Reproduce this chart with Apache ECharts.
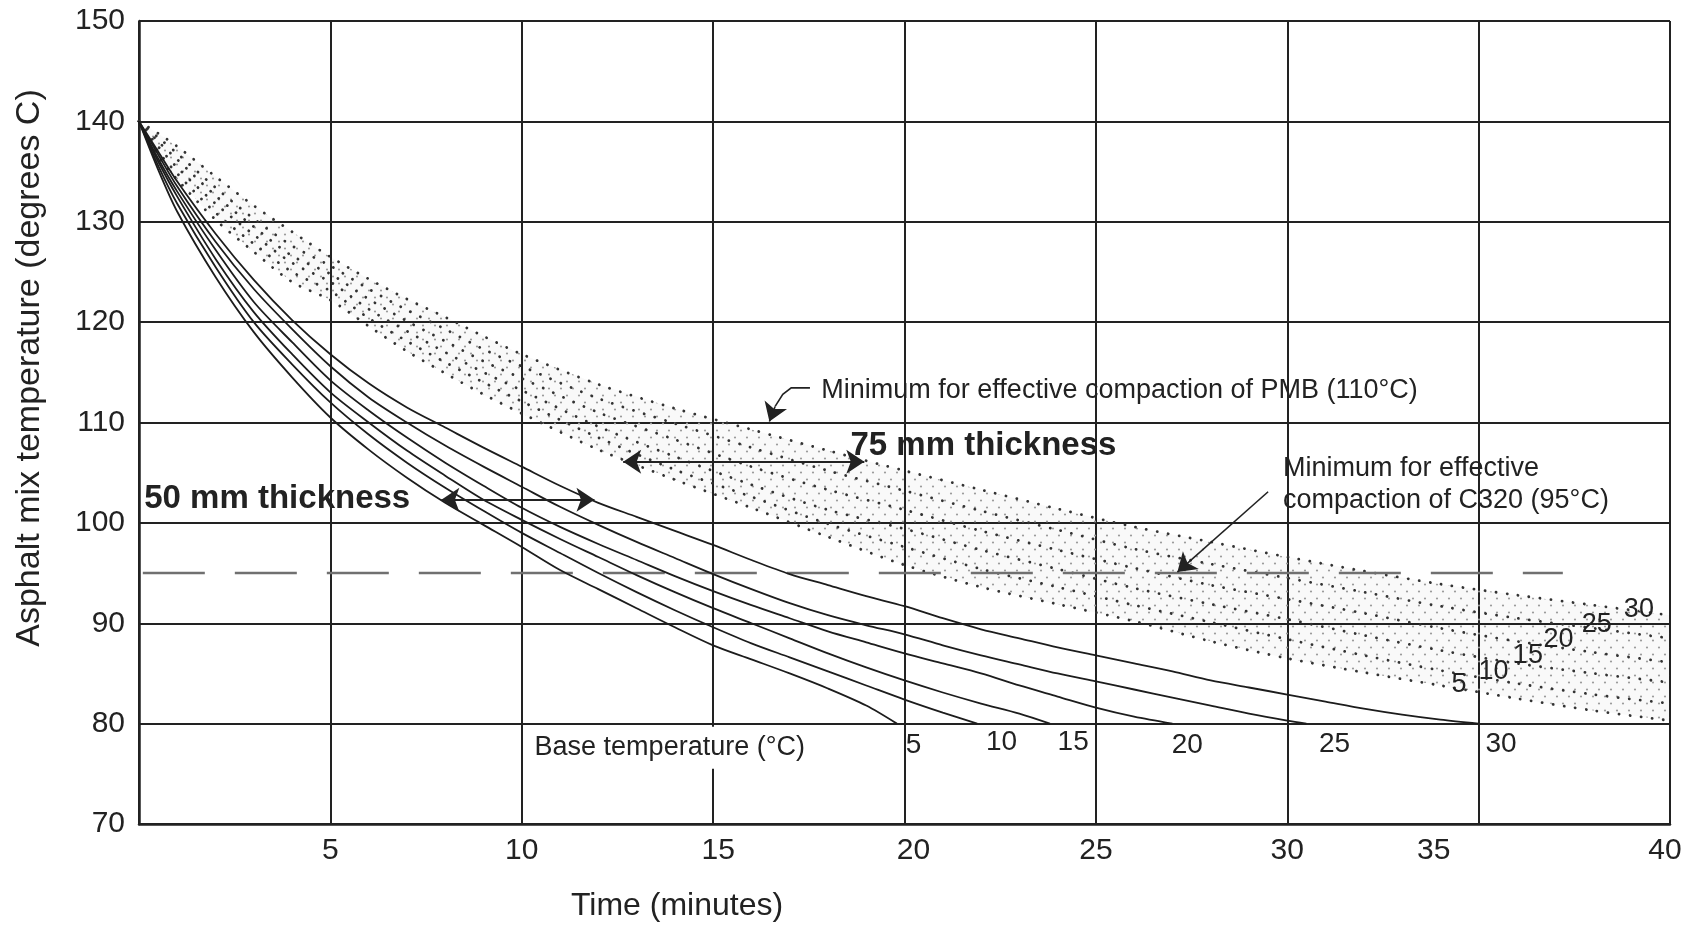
<!DOCTYPE html>
<html>
<head>
<meta charset="utf-8">
<script src="https://cdn.jsdelivr.net/npm/echarts@6/dist/echarts.min.js"></script>
<style>
html,body{margin:0;padding:0;background:#ffffff;}
#chart{width:1699px;height:933px;}
</style>
</head>
<body>
<div id="chart"></div>
<script>
// ---------------- data ----------------
const baseTemps = [5, 10, 15, 20, 25, 30];

// 50 mm thickness (solid), [time, temperature]
const solid5  = [[0,140],[0.5,135.2],[1,131],[2,124.5],[3,119],[4,114.5],[5,110.5],[6,107.3],[7,104.5],[8,102],[9,99.8],[10,97.6],[11,95.3],[12,93.4],[13,91.5],[14,89.6],[15,87.8],[16,86.4],[17,85],[18,83.5],[19,81.8],[19.8,80]];
const solid10 = [[0,140],[0.5,135.6],[1,131.8],[2,125.5],[3,120],[4,115.8],[5,112],[6,108.8],[7,106],[8,103.5],[9,101.2],[10,99],[11,97],[12,95],[13,93.1],[14,91.3],[15,89.6],[16,88],[17,86.6],[18,85.2],[19,83.8],[20,82.4],[21,81.1],[21.9,80]];
const solid15 = [[0,140],[0.5,136],[1,132.5],[2,126.3],[3,121],[4,116.8],[5,113],[6,110],[7,107.2],[8,104.7],[9,102.3],[10,100.3],[11,98.4],[12,96.6],[13,94.8],[14,93.1],[15,91.5],[16,90],[17,88.5],[18,87],[19,85.6],[20,84.3],[21,83.1],[22,82],[23,81],[23.8,80]];
const solid20 = [[0,140],[0.5,136.3],[1,133],[2,127.2],[3,122],[4,118],[5,114.2],[6,111.2],[7,108.5],[8,106],[9,103.7],[10,101.5],[11,99.6],[12,97.9],[13,96.3],[14,94.7],[15,93.2],[16,91.8],[17,90.5],[18,89.2],[19,88.1],[20,87],[21,86],[22,85],[23,83.8],[24,82.7],[25,81.6],[26,80.7],[27,80]];
const solid25 = [[0,140],[0.5,136.7],[1,133.5],[2,128],[3,123.3],[4,119.3],[5,115.6],[6,112.5],[7,110],[8,107.7],[9,105.6],[10,103.6],[11,101.6],[12,99.8],[13,98.1],[14,96.5],[15,94.9],[16,93.4],[17,92],[18,90.8],[19,89.8],[20,88.9],[21,87.8],[22,86.8],[23,85.9],[24,85],[25,84.2],[26,83.4],[27,82.6],[28,81.8],[29,81],[30,80.3],[30.5,80]];
const solid30 = [[0,140],[0.5,137],[1,134],[2,128.8],[3,124.2],[4,120.2],[5,116.8],[6,113.9],[7,111.5],[8,109.5],[9,107.5],[10,105.6],[11,103.7],[12,102],[13,100.6],[14,99.2],[15,97.8],[16,96.3],[17,94.9],[18,93.8],[19,92.7],[20,91.7],[21,90.5],[22,89.4],[23,88.5],[24,87.6],[25,86.8],[26,86],[27,85.2],[28,84.3],[29,83.6],[30,82.9],[31,82.2],[32,81.5],[33,80.9],[34,80.4],[35,80]];

// 75 mm thickness (dotted), temperatures at time75
const time75   = [0, 0.5, 1, 2, 3, 4, 5, 6, 7, 8, 9, 10, 12, 14, 16, 18, 20, 22, 24, 26, 28, 30, 32, 34, 36, 38, 40];
const dotted5  = [140, 136.6, 134.2, 130.2, 127, 124, 122.2, 119.6, 117.1, 114.9, 112.8, 110.9, 107.3, 104.3, 101.5, 98.6, 95.8, 93.6, 91.9, 90.2, 88.2, 86.5, 85.1, 83.8, 82.5, 81.3, 80.3];
const dotted10 = [140, 137, 134.8, 130.9, 127.8, 125, 123.1, 120.4, 118.1, 116, 114, 112.1, 108.5, 105.3, 102.6, 99.9, 97.6, 95.4, 93.6, 91.8, 90.1, 88.4, 86.8, 85.3, 84, 82.9, 82];
const dotted15 = [140, 137.5, 135.4, 131.8, 128.7, 125.9, 124, 121.3, 119.1, 117, 115, 113.2, 109.6, 106.6, 103.8, 101.3, 99.4, 97.3, 95.4, 93.5, 91.9, 90.4, 88.8, 87.3, 86, 85, 84.1];
const dotted20 = [140, 138, 136.2, 132.6, 129.5, 126.6, 124.8, 122.3, 120.1, 118.1, 116.1, 114.4, 111, 108.3, 105.6, 103.3, 101.3, 99.2, 97.3, 95.5, 93.8, 92.4, 91, 89.5, 88.2, 87.1, 86.1];
const dotted25 = [140, 138.4, 136.8, 133.4, 130.3, 127.6, 125.6, 123.3, 121.2, 119.3, 117.3, 115.6, 112.4, 109.9, 107.5, 105.2, 103.2, 101.2, 99.3, 97.4, 95.9, 94.5, 93.1, 91.7, 90.5, 89.5, 88.5];
const dotted30 = [140, 138.8, 137.5, 134.5, 131.6, 129, 126.5, 124.3, 122.3, 120.5, 118.6, 116.8, 113.8, 111.4, 109.3, 107.2, 105.2, 103.3, 101.4, 99.6, 98.1, 96.6, 95.2, 93.9, 92.8, 91.8, 90.8];

// C320 minimum compaction line (95 °C)
const c320Line = [[0.1, 95], [37.2, 95]];

// base-temperature labels under the solid curves, and labels on the dotted curves
const solidLabelX  = [20.25, 22.55, 24.42, 27.4, 31.25, 35.6];
const solidLabelY  = [77.8, 78.1, 78.1, 77.8, 77.9, 77.9];
const dottedLabelX = [34.5, 35.4, 36.3, 37.1, 38.1, 39.2];
const dottedLabelY = [83.8, 85.1, 86.7, 88.3, 89.8, 91.3];

// annotation arrows
const arrow50     = [[7.9, 102.3], [11.9, 102.3]];
const arrow75     = [[12.65, 106.1], [18.95, 106.1]];
const arrowPMBarm = [[17.53, 113.45], [17.04, 113.45], [16.82, 112.8], [16.62, 111.6]];
const arrowPMBtip = [[16.62, 111.6], [16.47, 110.1]];
const arrowC320   = [[29.5, 103.1], [27.13, 95.1]];

// annotation texts: [text, x, y, kind]
const notes = [
  ['Minimum for effective compaction of PMB (110°C)', 17.84, 113.1, 'note'],
  ['75 mm thickness', 18.6, 107.6, 'bold'],
  ['50 mm thickness', 0.15, 102.3, 'bold'],
  ['Minimum for effective\ncompaction of C320 (95°C)', 29.9, 103.8, 'note'],
  ['Base temperature (°C)', 13.88, 77.55, 'base']
];

// ---------------- chart ----------------
const FONT = '"Liberation Sans", Arial, Helvetica, sans-serif';
const INK = '#222222';

function stipple() {
  const c = document.createElement('canvas');
  c.width = 12; c.height = 14;
  const g = c.getContext('2d');
  g.fillStyle = 'rgba(0,0,0,0.025)';
  g.fillRect(0, 0, 12, 14);
  g.fillStyle = '#9c9c9c';
  g.beginPath(); g.arc(3, 3.5, 1.1, 0, Math.PI * 2); g.fill();
  g.beginPath(); g.arc(9, 10.5, 1.1, 0, Math.PI * 2); g.fill();
  return c;
}
const stipplePattern = { image: stipple(), repeat: 'repeat' };

const solidSets = [solid5, solid10, solid15, solid20, solid25, solid30];
const dottedSets = [dotted5, dotted10, dotted15, dotted20, dotted25, dotted30];
const pairs = arr => time75.map((t, i) => [t, arr[i]]);

const series = [];

// stippled band between the 5 °C and 30 °C dotted curves
series.push({
  name: 'band', type: 'custom', silent: true, z: 1, clip: true,
  data: [[20, 110]],
  renderItem: (params, api) => {
    const pts = time75.map((t, i) => api.coord([t, dotted30[i]]));
    for (let i = time75.length - 1; i >= 0; i--) pts.push(api.coord([time75[i], dotted5[i]]));
    return { type: 'polygon', shape: { points: pts }, style: { fill: stipplePattern, stroke: null } };
  }
});

// dotted curves (75 mm)
dottedSets.forEach((arr, k) => {
  series.push({
    name: '75 mm, base ' + baseTemps[k] + '°C', type: 'line', silent: true, z: 3,
    data: pairs(arr), symbol: 'none', smooth: 0.3,
    lineStyle: { color: '#333333', width: 2.8, type: [0.1, 11], cap: 'round' }
  });
});

// solid curves (50 mm)
solidSets.forEach((arr, k) => {
  series.push({
    name: '50 mm, base ' + baseTemps[k] + '°C', type: 'line', silent: true, z: 4,
    data: arr, symbol: 'none', smooth: 0.3,
    lineStyle: { color: '#1c1c1c', width: 1.8 }
  });
});

// C320 dashed line
series.push({
  name: 'C320 minimum', type: 'line', silent: true, z: 3,
  data: c320Line, symbol: 'none',
  lineStyle: { color: '#707070', width: 2.5, type: [62, 30] }
});

// arrows
series.push({
  type: 'lines', coordinateSystem: 'cartesian2d', silent: true, z: 6,
  symbol: ['arrow', 'arrow'], symbolSize: 18,
  lineStyle: { color: INK, width: 1.8, opacity: 1 },
  data: [{ coords: arrow50 }, { coords: arrow75 }]
});
series.push({
  type: 'lines', coordinateSystem: 'cartesian2d', silent: true, z: 6,
  symbol: ['none', 'arrow'], symbolSize: 18,
  lineStyle: { color: INK, width: 1.6, opacity: 1 },
  data: [{ coords: arrowPMBtip }, { coords: arrowC320 }]
});
series.push({
  type: 'lines', coordinateSystem: 'cartesian2d', polyline: true, silent: true, z: 6,
  lineStyle: { color: INK, width: 1.6, opacity: 1 },
  data: [{ coords: arrowPMBarm }]
});

// texts
const baseLabel = { show: true, position: [0, 0], verticalAlign: 'middle', color: INK,
  fontFamily: FONT, opacity: 1, textBorderWidth: 0, textBorderColor: 'transparent' };
const noteStyle = {
  note: { fontSize: 27, fontWeight: 'normal', align: 'left', lineHeight: 32 },
  bold: { fontSize: 33, fontWeight: 'bold', align: 'left', lineHeight: 38 },
  base: { fontSize: 27, fontWeight: 'normal', align: 'center', lineHeight: 30,
          backgroundColor: '#ffffff', padding: [8, 4, 4, 4] }
};
const textLayer = {
  type: 'scatter', silent: true, z: 8, symbol: 'circle', symbolSize: 1,
  itemStyle: { color: '#ffffff', opacity: 1 }, labelLayout: { hideOverlap: false }
};
series.push(Object.assign({}, textLayer, {
  data: notes.map(n => ({
    value: [n[1], n[2]],
    label: Object.assign({}, baseLabel, { formatter: n[0] }, noteStyle[n[3]])
  }))
}));
series.push(Object.assign({}, textLayer, {
  data: baseTemps.map((b, i) => ({
    value: [solidLabelX[i], solidLabelY[i]],
    label: Object.assign({}, baseLabel, { formatter: String(b), align: 'center', fontSize: 28 })
  }))
}));
series.push(Object.assign({}, textLayer, {
  data: baseTemps.map((b, i) => ({
    value: [dottedLabelX[i], dottedLabelY[i]],
    label: Object.assign({}, baseLabel, { formatter: String(b), align: 'center', fontSize: 27 })
  }))
}));

const tickRich = {
  n:   { fontSize: 30, color: INK, fontFamily: FONT },
  r5:  { fontSize: 30, color: INK, fontFamily: FONT, padding: [0, 0, 0, 10] },
  r9:  { fontSize: 30, color: INK, fontFamily: FONT, padding: [0, 0, 0, 18] },
  l45: { fontSize: 30, color: INK, fontFamily: FONT, padding: [0, 90, 0, 0] },
  up:  { fontSize: 30, color: INK, fontFamily: FONT, padding: [0, 10, 14, 0] }
};
const tickStyleFor = { 15: 'r5', 20: 'r9', 35: 'l45', 40: 'up' };

const chart = echarts.init(document.getElementById('chart'), null, { renderer: 'canvas' });
chart.setOption({
  animation: false,
  backgroundColor: '#ffffff',
  grid: { left: 139, right: 29, top: 21, bottom: 109, containLabel: false },
  xAxis: {
    type: 'value', min: 0, max: 40, interval: 5,
    name: 'Time (minutes)', nameLocation: 'middle', nameGap: 66,
    nameTextStyle: { fontSize: 32, color: INK, fontFamily: FONT, padding: [0, 455, 0, 0] },
    axisLine: { show: true, onZero: false, lineStyle: { color: INK, width: 2.5 } },
    axisTick: { show: false },
    axisLabel: {
      margin: 12, fontSize: 30, color: INK, fontFamily: FONT,
      formatter: v => v === 0 ? '' : '{' + (tickStyleFor[v] || 'n') + '|' + v + '}',
      rich: tickRich
    },
    splitLine: { show: true, lineStyle: { color: INK, width: 2 } }
  },
  yAxis: {
    type: 'value', min: 70, max: 150, interval: 10,
    name: 'Asphalt mix temperature (degrees C)', nameLocation: 'middle', nameGap: 92,
    nameTextStyle: { fontSize: 34, color: INK, fontFamily: FONT, padding: [0, 0, 0, 109] },
    axisLine: { show: true, lineStyle: { color: INK, width: 2.5 } },
    axisTick: { show: false },
    axisLabel: { margin: 14, fontSize: 30, color: INK, fontFamily: FONT },
    splitLine: { show: true, lineStyle: { color: INK, width: 2 } }
  },
  series: series
});
</script>
</body>
</html>
